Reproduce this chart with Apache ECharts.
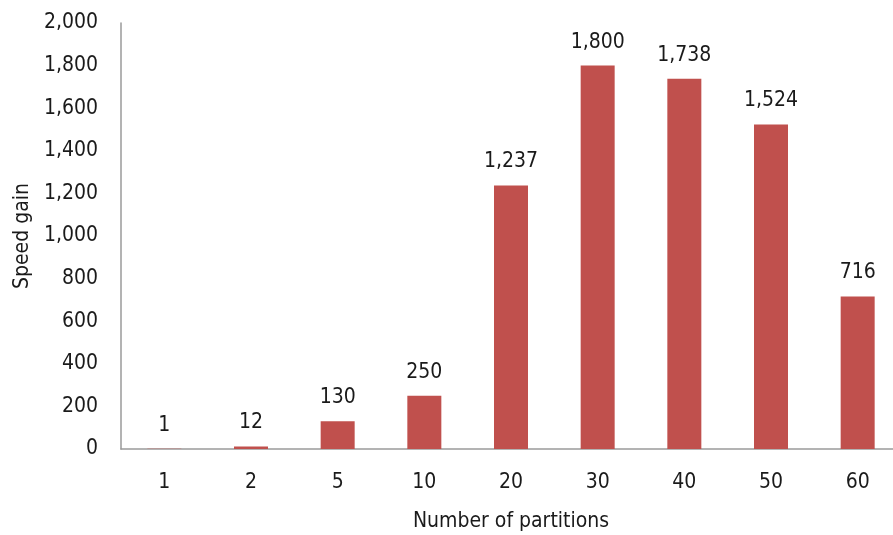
<!DOCTYPE html>
<html>
<head>
<meta charset="utf-8">
<script src="https://cdn.jsdelivr.net/npm/echarts@6/dist/echarts.min.js"></script>
<style>
  html, body { margin: 0; padding: 0; background: #fff; }
  #chart { width: 893px; height: 535px; }
</style>
</head>
<body>
<div id="chart"></div>
<script>
// Speed gain per number of partitions
const partitions = ['1', '2', '5', '10', '20', '30', '40', '50', '60'];
const speedGain = [1, 12, 130, 250, 1237, 1800, 1738, 1524, 716];
const yMin = 0, yMax = 2000, yStep = 200;

const FONT = '"DejaVu Sans Condensed", "Liberation Sans Narrow", "Arial Narrow", sans-serif';
const TXT = '#1a1a1a';
const fmt = v => Number(v).toLocaleString('en-US');

const chart = echarts.init(document.getElementById('chart'));
chart.setOption({
  animation: false,
  grid: { left: 121, top: 23, width: 780, bottom: 86, containLabel: false, outerBoundsMode: 'none' },
  xAxis: {
    type: 'category',
    data: partitions,
    name: 'Number of partitions',
    nameLocation: 'middle',
    nameGap: 62,
    nameTextStyle: { fontFamily: FONT, fontSize: 21, color: TXT },
    axisLine: { lineStyle: { color: '#9a9a9a', width: 1.5 } },
    axisTick: { show: false },
    axisLabel: { fontFamily: FONT, fontSize: 21, color: TXT, margin: 23 }
  },
  yAxis: {
    type: 'value',
    min: yMin, max: yMax, interval: yStep,
    name: 'Speed gain',
    nameLocation: 'middle',
    nameGap: 88,
    nameTextStyle: { fontFamily: FONT, fontSize: 21, color: TXT },
    axisLine: { show: true, lineStyle: { color: '#9a9a9a', width: 1.5 } },
    axisTick: { show: false },
    splitLine: { show: false },
    axisLabel: { fontFamily: FONT, fontSize: 21, color: TXT, margin: 23, formatter: fmt }
  },
  series: [{
    type: 'bar',
    data: speedGain,
    barWidth: 34,
    itemStyle: { color: '#C0504D' },
    label: {
      show: true, position: 'top', distance: 13,
      fontFamily: FONT, fontSize: 21, color: TXT,
      formatter: p => fmt(p.value)
    }
  }]
});
</script>
</body>
</html>
